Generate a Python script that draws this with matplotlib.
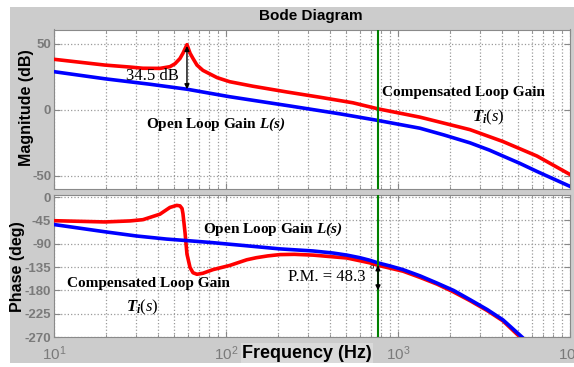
import numpy as np
import matplotlib
matplotlib.use("Agg")
import matplotlib.pyplot as plt
from matplotlib.patches import Rectangle

plt.rcParams["font.family"] = ["Liberation Sans", "DejaVu Sans"]
plt.rcParams["mathtext.fontset"] = "custom"
plt.rcParams["mathtext.rm"] = "Liberation Serif"
plt.rcParams["mathtext.it"] = "Liberation Serif:italic"
plt.rcParams["mathtext.bf"] = "Liberation Serif:bold"
plt.rcParams["mathtext.bfit"] = "Liberation Serif:bold:italic"
plt.rcParams["mathtext.sf"] = "Liberation Sans"

# -------------------- DATA --------------------
# magnitude, open loop gain L(s)
f_mag_ol = [10, 19.8, 36, 59.3, 105, 235, 460, 765, 1342, 1850, 2624, 3400,
            4077, 5100, 6430, 10000]
mag_ol = [29, 23.6, 19.5, 15.7, 10, 3, -3, -8, -13.9, -19, -25, -30.5,
          -35, -40.5, -46.7, -58]

# magnitude, compensated loop gain Ti(s)
f_mag_comp = [10, 19.8, 27.7, 32.9, 41.3, 47.2, 50.5, 54, 56.2, 59.3, 61.8, 64.3,
              67.8, 73.4, 88.7, 105, 143, 226, 352, 547, 765, 1342, 2624, 4077,
              6430, 10000]
mag_comp = [38.4, 34, 32.5, 31.6, 31.5, 32.8, 35, 39, 43, 49.5, 43, 39,
            34, 30, 24.5, 21.4, 18.0, 13.6, 9.6, 5.4, 0.8, -5.5, -15, -24,
            -35, -49]

# phase, open loop gain L(s)
f_ph_ol = [10, 19.8, 30, 45, 59.3, 84, 105, 132, 206, 321, 420, 505, 600, 687,
           765, 900, 1069, 1342, 1687, 2100, 2624, 3300, 4077, 5258]
ph_ol = [-53, -67, -75, -81, -84, -88, -91, -94, -100, -104, -108, -112, -117,
         -122, -127, -133, -140, -152, -166, -180, -198, -217, -237, -270]

# phase, compensated loop gain Ti(s)
f_ph_comp = [10, 19.8, 27.7, 32.9, 41.3, 47.2, 51.7, 54, 55.5, 56.2, 57.8,
             59.3, 61.8, 64.3, 67.8, 73.4, 84, 105, 132, 150, 175, 206, 250,
             321, 505, 687, 765, 1069, 1342, 1687, 2100, 2624, 3300, 4077, 5117]
ph_comp = [-45.6, -48, -46, -43.6, -33, -20, -16, -17, -22, -32, -69,
           -110, -136, -146, -149, -147, -140, -132, -121, -117, -113.5, -111,
           -110.5, -112, -117.6, -127, -131.7, -143, -155, -168, -183, -200,
           -219, -239, -270]

f_cross = 765
peak_f, peak_comp, peak_ol = 59.3, 48.5, 15.7
pm_top, pm_bottom = -131.7, -180

mag_ticks = [-50, 0, 50]
ph_ticks = [0, -45, -90, -135, -180, -225, -270]
freq_ticks = [10, 100, 1000, 10000]
freq_ticklabels = [r"$\mathsf{10^{1}}$", r"$\mathsf{10^{2}}$",
                   r"$\mathsf{10^{3}}$", r"$\mathsf{10^{4}}$"]

# -------------------- FIGURE --------------------
W, H = 574, 367
fig = plt.figure(figsize=(W / 100, H / 100), dpi=100)
fig.patch.set_facecolor("white")
fig.patches.append(Rectangle((10 / W, 4 / H), 564 / W, 356 / H,
                             transform=fig.transFigure, facecolor="#cccccc",
                             edgecolor="none", zorder=-10))

ax1 = fig.add_axes([54 / W, 178 / H, 516 / W, 159.5 / H])
ax2 = fig.add_axes([54 / W, 30 / H, 516 / W, 142 / H])

tick_grey = "#7a7a7a"
for ax in (ax1, ax2):
    ax.set_xscale("log")
    ax.set_xlim(10, 10000)
    ax.grid(True, which="both", axis="x", color="#9a9a9a", linestyle=":", linewidth=0.9)
    ax.grid(True, which="major", axis="y", color="#9a9a9a", linestyle=":", linewidth=0.9)
    ax.tick_params(which="both", direction="in", top=True, right=True,
                   color="#888888", labelcolor=tick_grey)
    ax.tick_params(which="major", length=4)
    ax.tick_params(which="minor", length=2)
    ax.tick_params(axis="y", pad=2)
    for s in ax.spines.values():
        s.set_color("#8a8a8a")
    ax.axvline(f_cross, color="#008000", linewidth=1.5, zorder=4)

# magnitude
ax1.plot(f_mag_comp, mag_comp, color="#ff0000", linewidth=2.6, zorder=3)
ax1.plot(f_mag_ol, mag_ol, color="#0000ff", linewidth=2.6, zorder=3)
ax1.set_ylim(-60, 61)
ax1.set_yticks(mag_ticks)
ax1.set_yticklabels([str(v) for v in mag_ticks], fontweight="bold", fontsize=9.5)
ax1.set_xticks(freq_ticks)
ax1.tick_params(axis="x", labelbottom=False)

# phase
ax2.plot(f_ph_comp, ph_comp, color="#ff0000", linewidth=2.6, zorder=3)
ax2.plot(f_ph_ol, ph_ol, color="#0000ff", linewidth=2.6, zorder=3)
ax2.set_ylim(-270, 4)
ax2.set_yticks(ph_ticks)
ax2.set_yticklabels([str(v) for v in ph_ticks], fontweight="bold", fontsize=9.5)
ax2.set_xticks(freq_ticks)
ax2.set_xticklabels(freq_ticklabels, fontsize=11)
ax2.tick_params(axis="x", pad=5)

# -------------------- ANNOTATIONS --------------------
serif = "Liberation Serif"
arrow = dict(arrowstyle="<|-|>", color="black", linewidth=1.0, mutation_scale=7,
             shrinkA=0, shrinkB=0)

ax1.annotate("", xy=(peak_f, peak_comp), xytext=(peak_f, peak_ol), arrowprops=arrow, zorder=6)
ax1.text(37.2, 25.8, "34.5 dB", family=serif, fontsize=12, ha="center", va="center")
ax1.text(87.5, -10.6, r"Open Loop Gain $\mathbfit{L(s)}$", family=serif,
         fontweight="bold", fontsize=11, ha="center", va="center")
ax1.text(2388, 12.9, "Compensated Loop Gain", family=serif, fontweight="bold",
         fontsize=11, ha="center", va="center")
ax1.text(3334, -6, r"$\mathbfit{T_i}\mathit{(s)}$", fontsize=12, ha="center", va="center")

ax2.annotate("", xy=(f_cross, pm_top), xytext=(f_cross, pm_bottom), arrowprops=arrow, zorder=6)
ax2.text(187.6, -63, r"Open Loop Gain $\mathbfit{L(s)}$", family=serif,
         fontweight="bold", fontsize=11, ha="center", va="center")
ax2.text(35.2, -167, "Compensated Loop Gain", family=serif, fontweight="bold",
         fontsize=11, ha="center", va="center")
ax2.text(32.5, -213.5, r"$\mathbfit{T_i}\mathit{(s)}$", fontsize=12, ha="center", va="center")
ax2.text(643, -153.7, "P.M. = 48.3", family=serif, fontsize=12, ha="right", va="center")
ax2.text(706, -134, "o", family=serif, fontsize=6, ha="center", va="center")

# -------------------- TITLE / LABELS --------------------
fig.text(311 / W, 1 - 16 / H, "Bode Diagram", fontweight="bold", fontsize=11,
         ha="center", va="center")
fig.text(27 / W, 1 - 108 / H, "Magnitude (dB)", fontweight="bold", fontsize=11.5,
         rotation=90, ha="center", va="center")
fig.text(18 / W, 1 - 267 / H, "Phase (deg)", fontweight="bold", fontsize=11.5,
         rotation=90, ha="center", va="center")
fig.text(307 / W, 1 - 353 / H, "Frequency (Hz)", fontweight="bold", fontsize=13,
         ha="center", va="center",
         bbox=dict(facecolor="#dadada", edgecolor="none", pad=1))

fig.savefig("out.png", dpi=100)
